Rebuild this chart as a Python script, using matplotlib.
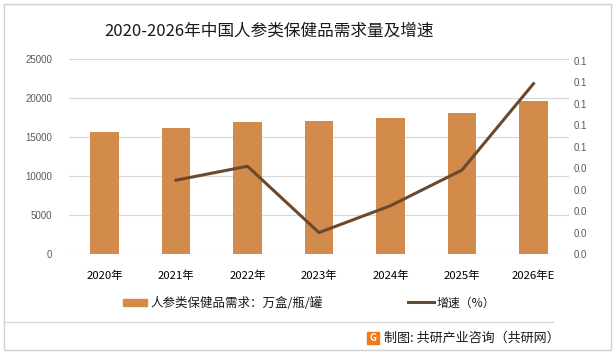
import numpy as np
import matplotlib.pyplot as plt
from matplotlib.patches import Rectangle
from matplotlib.lines import Line2D

plt.rcParams['font.family'] = ['Noto Sans CJK SC', 'DejaVu Sans']

# data
years = ['2020年', '2021年', '2022年', '2023年', '2024年', '2025年', '2026年E']
demand = [15680, 16190, 16960, 17090, 17470, 18100, 19650]
growth_years = ['2021年', '2022年', '2023年', '2024年', '2025年', '2026年E']
growth = [0.0345, 0.041, 0.0101, 0.0226, 0.0392, 0.0794]

bar_color = '#D38B4C'
line_color = '#6A4A2F'

fig = plt.figure(figsize=(6.16, 3.57), dpi=100)
ax = fig.add_axes([0.1116, 0.2877, 0.8124, 0.5463])

x = np.arange(len(years))
ax.bar(x, demand, width=0.4, color=bar_color, zorder=2)
ax.set_xlim(-0.5, len(years) - 0.5)
ax.set_ylim(0, 25000)
ax.set_yticks(np.arange(0, 25001, 5000))
ax.yaxis.grid(True, color='#D9D9D9', linewidth=0.9, zorder=0)
ax.set_axisbelow(True)
for s in ax.spines.values():
    s.set_visible(False)
ax.set_xticks(x)
ax.set_xticklabels(years, fontsize=8.2, color='#000000')
ax.tick_params(axis='x', length=0, pad=12)
ax.tick_params(axis='y', length=0, labelsize=7, labelcolor='#595959', pad=12)
for t in ax.get_yticklabels():
    t.set_fontfamily(['Liberation Sans', 'DejaVu Sans'])

ax2 = ax.twinx()
gx = [years.index(y) for y in growth_years]
ax2.plot(gx, growth, color=line_color, linewidth=2.2, zorder=3)
ax2.set_ylim(0, 0.0908)
ax2.set_yticks(np.arange(0, 0.0901, 0.01))
ax2.set_yticklabels(['%.1f' % v for v in np.arange(0, 0.0901, 0.01)])
for s in ax2.spines.values():
    s.set_visible(False)
ax2.tick_params(axis='y', length=0, labelsize=7, labelcolor='#595959', pad=3)
for t in ax2.get_yticklabels():
    t.set_fontfamily(['Liberation Sans', 'DejaVu Sans'])

# title
fig.text(269 / 616, 1 - 31 / 357, '2020-2026年中国人参类保健品需求量及增速',
         ha='center', va='center', fontsize=12, color='#1a1a1a')

# legend drawn by hand
fig.patches.append(Rectangle((123 / 616, 1 - 306 / 357), 24 / 616, 7 / 357,
                             transform=fig.transFigure, color=bar_color))
fig.text(150 / 616, 1 - 303 / 357, '人参类保健品需求：万盒/瓶/罐', ha='left', va='center',
         fontsize=9, color='#1a1a1a')
fig.lines.append(Line2D([408 / 616, 434 / 616], [1 - 302 / 357, 1 - 302 / 357],
                        transform=fig.transFigure, color=line_color, linewidth=2.2))
fig.text(437 / 616, 1 - 303 / 357, '增速（%）', ha='left', va='center',
         fontsize=8.6, color='#1a1a1a')

# separator and frame
fig.lines.append(Line2D([4 / 616, 553 / 616], [1 - 322 / 357, 1 - 322 / 357],
                        transform=fig.transFigure, color='#D9D9D9', linewidth=1))
fig.patches.append(Rectangle((4 / 616, 1 - 350 / 357), 607 / 616, 346 / 357,
                             transform=fig.transFigure, fill=False,
                             edgecolor='#D0D0D0', linewidth=1))

# source with logo
fig.patches.append(Rectangle((367 / 616, 1 - 344 / 357), 12 / 616, 12 / 357,
                             transform=fig.transFigure, color='#F07A1E'))
fig.text(373 / 616, 1 - 338 / 357, 'G', ha='center', va='center', fontsize=7,
         color='white', fontweight='bold')
fig.text(384 / 616, 1 - 338 / 357, '制图: 共研产业咨询（共研网）', ha='left', va='center',
         fontsize=9.4, color='#1a1a1a')

fig.savefig('out.png', dpi=100)
